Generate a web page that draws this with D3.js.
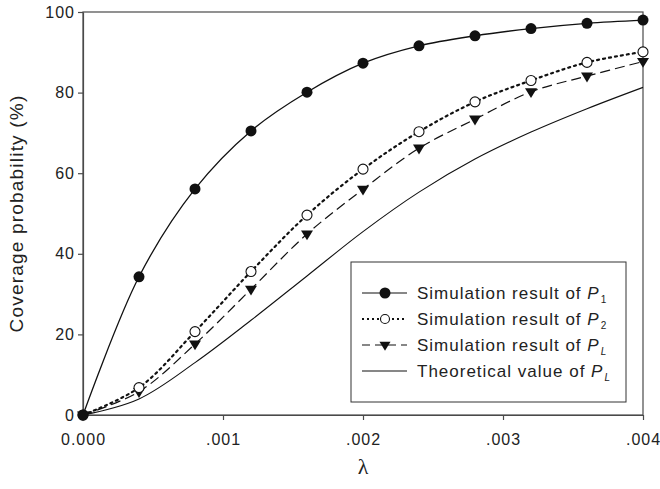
<!DOCTYPE html>
<html><head><meta charset="utf-8">
<script src="https://cdn.jsdelivr.net/npm/d3@7/dist/d3.min.js"></script>
<style>body{margin:0;background:#fff}</style>
</head><body>
<svg id="c" width="660" height="489"></svg>
<script>
const lambda = [0, 0.0004, 0.0008, 0.0012, 0.0016, 0.002, 0.0024, 0.0028, 0.0032, 0.0036, 0.004];
const simP1 = [0, 34.3, 56.1, 70.5, 80.1, 87.3, 91.6, 94.1, 95.9, 97.2, 98.0];
const simP2 = [0, 6.8, 20.7, 35.6, 49.6, 61.0, 70.3, 77.7, 83.0, 87.5, 90.1];
const simPL = [0, 5.8, 17.6, 31.2, 44.9, 56.0, 66.2, 73.4, 80.2, 84.1, 87.7];
const theoPL = [0, 4.0, 13.0, 23.5, 34.5, 45.5, 55.3, 63.5, 70.2, 76.0, 81.3];
const xTicks = [0, 0.001, 0.002, 0.003, 0.004];
const xTickLabels = ["0.000", ".001", ".002", ".003", ".004"];
const yTicks = [0, 20, 40, 60, 80, 100];
const legendLabels = ["Simulation result of ", "Simulation result of ", "Simulation result of ", "Theoretical value of "];
const legendSubs = ["1", "2", "L", "L"];

const svg = d3.select("#c");
const m = {l: 83, r: 643, t: 12, b: 415};
const x = d3.scaleLinear().domain([0, 0.004]).range([m.l, m.r]);
const y = d3.scaleLinear().domain([0, 100]).range([m.b, m.t]);
const font = "'Liberation Sans', Arial, sans-serif";
const axisCol = "#4a4a4a";

// frame
svg.append("rect").attr("x", m.l).attr("y", m.t).attr("width", m.r - m.l).attr("height", m.b - m.t)
  .attr("fill", "none").attr("stroke", axisCol).attr("stroke-width", 1.2);

const xa = svg.append("g").attr("transform", `translate(0,${m.b})`)
  .call(d3.axisBottom(x).tickValues(xTicks).tickFormat((d, i) => xTickLabels[i]).tickSize(5).tickSizeOuter(0).tickPadding(14));
const ya = svg.append("g").attr("transform", `translate(${m.l},0)`)
  .call(d3.axisLeft(y).tickValues(yTicks).tickSize(5).tickSizeOuter(0).tickPadding(3));
[xa, ya].forEach(a => {
  a.select(".domain").attr("stroke", axisCol).attr("stroke-width", 1.2);
  a.selectAll(".tick line").attr("stroke", axisCol).attr("stroke-width", 1.2);
  a.selectAll("text").attr("font-family", font).attr("font-size", 16).attr("letter-spacing", 1).attr("fill", "#222");
});

svg.append("text").attr("x", x(0.002)).attr("y", 474).attr("text-anchor", "middle")
  .attr("font-family", "'Liberation Serif', 'DejaVu Serif', serif").attr("font-size", 22).attr("fill", "#222").text("λ");
svg.append("text").attr("transform", `translate(23,${(m.t + m.b) / 2}) rotate(-90)`).attr("text-anchor", "middle")
  .attr("font-family", font).attr("font-size", 19).attr("letter-spacing", 1.2).attr("fill", "#222").text("Coverage probability (%)");

const line = d3.line().x(d => x(d[0])).y(d => y(d[1])).curve(d3.curveCatmullRom.alpha(0.5));
const pts = arr => lambda.map((l, i) => [l, arr[i]]);

const styles = [
  {data: simP1, dash: null, width: 1.3, marker: "fill"},
  {data: simP2, dash: "2,4", width: 2.2, marker: "open"},
  {data: simPL, dash: "10,5", width: 1.2, marker: "tri"},
  {data: theoPL, dash: null, width: 1.1, marker: null}
];
styles.forEach(s => {
  svg.append("path").attr("d", line(pts(s.data))).attr("fill", "none").attr("stroke", "#111")
    .attr("stroke-width", s.width).attr("stroke-dasharray", s.dash).attr("stroke-linecap", s.dash && s.dash.startsWith("2") ? "round" : "butt");
});
function marker(g, kind, cx, cy, r) {
  if (kind === "fill") g.append("circle").attr("cx", cx).attr("cy", cy).attr("r", r || 5.5).attr("fill", "#111");
  else if (kind === "open") g.append("circle").attr("cx", cx).attr("cy", cy).attr("r", r || 5).attr("fill", "#fff").attr("stroke", "#111").attr("stroke-width", 1.1);
  else if (kind === "tri") {
    const s = r || 6;
    g.append("path").attr("d", `M${cx - s},${cy - s * 0.6}L${cx + s},${cy - s * 0.6}L${cx},${cy + s * 1.05}Z`).attr("fill", "#111");
  }
}
const mg = svg.append("g");
[2, 1, 0].forEach(k => {
  const s = styles[k];
  lambda.forEach((l, i) => marker(mg, s.marker, x(l), y(s.data[i])));
});

// legend
const lg = svg.append("g");
lg.append("rect").attr("x", 351).attr("y", 262).attr("width", 275).attr("height", 140)
  .attr("fill", "#fff").attr("stroke", "#333").attr("stroke-width", 1);
const rows = [293, 319, 345, 371];
styles.forEach((s, k) => {
  const yy = rows[k];
  lg.append("line").attr("x1", 362).attr("x2", 407).attr("y1", yy).attr("y2", yy).attr("stroke", "#111")
    .attr("stroke-width", k === 1 ? 2 : 1.2).attr("stroke-dasharray", k === 1 ? "2,3" : (k === 2 ? "8,5" : null));
  if (s.marker) marker(lg, s.marker, 385, yy, s.marker === "tri" ? 5.5 : (s.marker === "open" ? 4.5 : 5.5));
  const t = lg.append("text").attr("x", 417).attr("y", yy + 6).attr("font-family", font).attr("font-size", 17)
    .attr("letter-spacing", 1).attr("fill", "#222");
  t.append("tspan").text(legendLabels[k]);
  t.append("tspan").attr("font-style", "italic").text("P");
  t.append("tspan").attr("font-size", 10).attr("dy", 4).attr("dx", 1)
    .attr("font-style", legendSubs[k] === "L" ? "italic" : "normal").text(legendSubs[k]);
});
</script>
</body></html>
